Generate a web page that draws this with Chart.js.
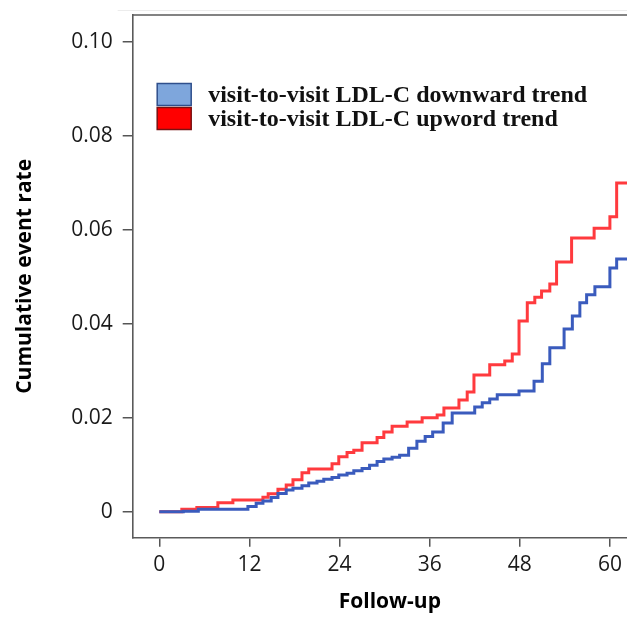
<!DOCTYPE html>
<html>
<head>
<meta charset="utf-8">
<script src="https://cdn.jsdelivr.net/npm/chart.js@4.4.1/dist/chart.umd.min.js"></script>
<style>
  html, body { margin: 0; padding: 0; background: #fff; overflow: hidden; width: 627px; height: 617px; }
  #wrap { width: 650px; height: 617px; }
</style>
</head>
<body>
<div id="wrap"><canvas id="c" width="650" height="617"></canvas></div>
<script>
// ---- data ----
const seriesLabels = ['visit-to-visit LDL-C downward trend', 'visit-to-visit LDL-C upword trend'];
const downMonths = [0, 3.2, 5.2, 11.8, 12.9, 13.8, 14.9, 15.8, 16.9, 17.8, 19.0, 19.9, 21.0, 21.9, 23.0, 23.9, 25.0, 25.9, 27.0, 28.0, 29.0, 29.9, 31.0, 32.0, 33.2, 34.3, 35.4, 36.4, 37.8, 39.0, 42.0, 43.0, 44.0, 45.0, 47.9, 49.9, 51.0, 52.0, 53.9, 55.0, 56.0, 56.9, 58.0, 60.0, 60.9, 65];
const downRates  = [0, 0.0001, 0.0005, 0.0011, 0.0018, 0.0023, 0.0030, 0.0039, 0.0046, 0.0050, 0.0055, 0.0061, 0.0065, 0.0069, 0.0073, 0.0078, 0.0082, 0.0087, 0.0092, 0.0099, 0.0107, 0.0112, 0.0116, 0.0120, 0.0135, 0.0150, 0.0160, 0.0170, 0.0189, 0.0210, 0.0223, 0.0232, 0.0240, 0.0249, 0.0257, 0.0278, 0.0315, 0.0349, 0.0389, 0.0417, 0.0445, 0.0462, 0.0479, 0.0519, 0.0538, 0.0538];
const upMonths = [0, 3.0, 5.0, 7.8, 9.8, 13.8, 14.5, 15.8, 16.9, 17.8, 19.0, 19.9, 23.0, 23.9, 25.0, 25.9, 27.0, 29.0, 29.9, 31.0, 33.0, 35.0, 37.0, 37.9, 39.9, 41.0, 41.9, 44.0, 46.0, 47.0, 47.9, 49.0, 50.0, 50.9, 52.0, 52.9, 54.9, 57.9, 60.0, 60.9, 65];
const upRates  = [0, 0.0005, 0.0009, 0.0019, 0.0025, 0.0031, 0.0038, 0.0048, 0.0057, 0.0068, 0.0083, 0.0091, 0.0102, 0.0117, 0.0126, 0.0131, 0.0147, 0.0158, 0.0170, 0.0182, 0.0191, 0.0200, 0.0206, 0.0221, 0.0238, 0.0255, 0.0291, 0.0313, 0.0321, 0.0336, 0.0406, 0.0445, 0.0457, 0.0470, 0.0485, 0.0532, 0.0583, 0.0604, 0.0628, 0.0700, 0.0700];
const xTicks = [0, 12, 24, 36, 48, 60];
const yTicks = [0, 0.02, 0.04, 0.06, 0.08, 0.10];
const xTitle = 'Follow-up';
const yTitle = 'Cumulative event rate';

const toPts = (xs, ys) => xs.map((x, i) => ({ x: x, y: ys[i] }));

const legendFill = ['#7ea6dc', '#ff0000'];
const legendStroke = ['#2f4f8c', '#7a1010'];

const boxPlugin = {
  id: 'boxAndLegend',
  beforeDatasetsDraw(chart) {
    const { ctx, chartArea } = chart;
    ctx.save();
    // faint line above the frame
    ctx.strokeStyle = '#ececec';
    ctx.lineWidth = 1;
    ctx.beginPath();
    ctx.moveTo(chartArea.left - 15, chartArea.top - 4.5);
    ctx.lineTo(chart.width, chartArea.top - 4.5);
    ctx.stroke();
    // top frame line
    ctx.strokeStyle = '#5a5a5a';
    ctx.lineWidth = 1.6;
    ctx.beginPath();
    ctx.moveTo(chartArea.left, chartArea.top);
    ctx.lineTo(chartArea.right, chartArea.top);
    ctx.stroke();
    ctx.restore();
  },
  afterDraw(chart) {
    const { ctx, chartArea } = chart;
    ctx.save();
    const bx = chartArea.left + 24.5, bw = 34, bh = 22;
    const rows = [chartArea.top + 68.5, chartArea.top + 92.5];
    ctx.font = 'bold 24px "Liberation Serif", "Times New Roman", serif';
    ctx.textBaseline = 'middle';
    ctx.textAlign = 'left';
    chart.data.datasets.forEach((ds, i) => {
      const by = rows[i];
      ctx.fillStyle = legendFill[i];
      ctx.fillRect(bx, by, bw, bh);
      ctx.strokeStyle = legendStroke[i];
      ctx.lineWidth = 1.5;
      ctx.strokeRect(bx, by, bw, bh);
      ctx.fillStyle = '#111';
      ctx.fillText(ds.label, bx + 51, by + bh / 2 + 1);
    });
    ctx.restore();
  }
};

function zeroPad(scale) {
  scale.paddingTop = 0; scale.paddingBottom = 0;
  scale.paddingLeft = 0; scale.paddingRight = 0;
}

new Chart(document.getElementById('c'), {
  type: 'line',
  data: {
    datasets: [
      { label: seriesLabels[0], data: toPts(downMonths, downRates), stepped: 'before',
        borderColor: '#3a5bbd', borderWidth: 3, pointRadius: 0, fill: false },
      { label: seriesLabels[1], data: toPts(upMonths, upRates), stepped: 'before',
        borderColor: '#ff3a3e', borderWidth: 3, pointRadius: 0, fill: false }
    ]
  },
  options: {
    responsive: false,
    animation: false,
    devicePixelRatio: 1,
    layout: { padding: { top: 15, right: 3, left: 0, bottom: 0 } },
    plugins: { legend: { display: false }, tooltip: { enabled: false } },
    scales: {
      x: {
        type: 'linear',
        min: -3.54,
        max: 64.94,
        afterBuildTicks(scale) { scale.ticks = xTicks.map(v => ({ value: v })); },
        afterFit(scale) { scale.height = 79.3; zeroPad(scale); },
        grid: { display: true, drawOnChartArea: false, drawTicks: true, tickLength: 9, color: '#555', lineWidth: 1.5 },
        border: { display: true, color: '#5a5a5a', width: 1.6 },
        ticks: { color: '#1a1a1a', padding: 6, font: { family: '"Open Sans", sans-serif', size: 21 } },
        title: { display: true, text: xTitle, color: '#000', padding: { top: 0, bottom: 2 },
                 font: { family: '"Open Sans", sans-serif', size: 21, weight: 'bold' } }
      },
      y: {
        type: 'linear',
        min: -0.00554,
        max: 0.1058,
        afterBuildTicks(scale) { scale.ticks = yTicks.map(v => ({ value: v })); },
        afterFit(scale) { scale.width = 132.7; zeroPad(scale); },
        grid: { display: true, drawOnChartArea: false, drawTicks: true, tickLength: 10, color: '#555', lineWidth: 1.5 },
        border: { display: true, color: '#5a5a5a', width: 1.6 },
        ticks: { color: '#1a1a1a', padding: 10, font: { family: '"Open Sans", sans-serif', size: 21 },
                 callback: v => (v === 0 ? '0' : v.toFixed(2)) },
        title: { display: true, text: yTitle, color: '#000', padding: { top: 12, bottom: 0 },
                 font: { family: '"Open Sans", sans-serif', size: 21, weight: 'bold' } }
      }
    }
  },
  plugins: [boxPlugin]
});
</script>
</body>
</html>
